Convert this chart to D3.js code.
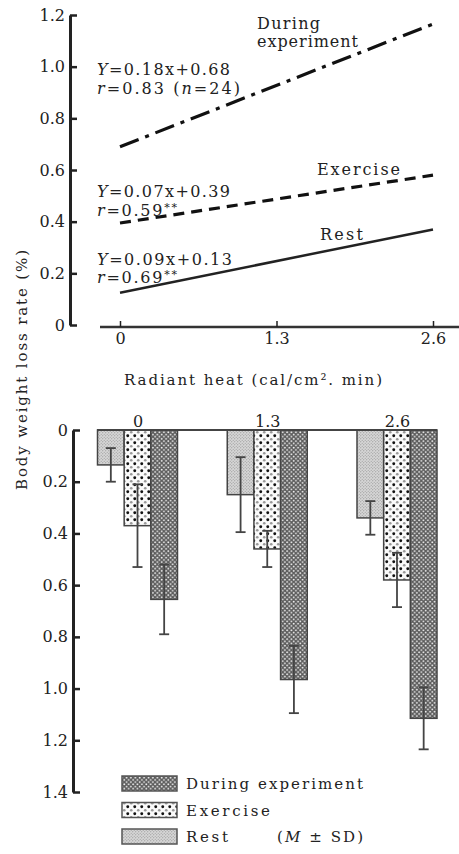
<!DOCTYPE html>
<html>
<head>
<meta charset="utf-8">
<script src="https://cdn.jsdelivr.net/npm/d3@7"></script>
<style>
  body { margin: 0; background: #fff; }
  svg { display: block; font-family: "DejaVu Serif", "Liberation Serif", serif; }
  text { fill: #222; }
</style>
</head>
<body>
<div id="chart"></div>
<script>
// ---- data ----
const heat = [0, 1.3, 2.6];
const heatLabels = ["0", "1.3", "2.6"];
const yTicksTop = [0, 0.2, 0.4, 0.6, 0.8, 1.0, 1.2];
const yTicksBottom = [0, 0.2, 0.4, 0.6, 0.8, 1.0, 1.2, 1.4];

// regression lines, value at x = 0 and x = 2.6
const lineEnds = [0, 2.6];
const restLine = [0.125, 0.37];
const exerciseLine = [0.395, 0.58];
const duringLine = [0.69, 1.165];

// bar chart, mean and SD per radiant heat level
const series = ["Rest", "Exercise", "During experiment"];
const restMean = [0.135, 0.25, 0.34];
const restSD = [0.065, 0.145, 0.065];
const exerciseMean = [0.37, 0.46, 0.58];
const exerciseSD = [0.16, 0.07, 0.105];
const duringMean = [0.655, 0.965, 1.115];
const duringSD = [0.135, 0.13, 0.12];

const W = 459, H = 854;
const svg = d3.select("#chart").append("svg")
  .attr("width", W)
  .attr("height", H);

svg.append("rect").attr("width", W).attr("height", H).attr("fill", "#fff");

// ---- patterns ----
const defs = svg.append("defs");

const pRest = defs.append("pattern").attr("id", "pRest")
  .attr("patternUnits", "userSpaceOnUse").attr("width", 3).attr("height", 3);
pRest.append("rect").attr("width", 3).attr("height", 3).attr("fill", "#d6d6d6");
pRest.append("circle").attr("cx", 0.75).attr("cy", 0.75).attr("r", 0.6).attr("fill", "#8a8a8a");
pRest.append("circle").attr("cx", 2.25).attr("cy", 2.25).attr("r", 0.6).attr("fill", "#9a9a9a");

const pEx = defs.append("pattern").attr("id", "pEx")
  .attr("patternUnits", "userSpaceOnUse").attr("width", 7).attr("height", 7);
pEx.append("rect").attr("width", 7).attr("height", 7).attr("fill", "#fafafa");
pEx.append("circle").attr("cx", 1.75).attr("cy", 1.75).attr("r", 1.45).attr("fill", "#111");
pEx.append("circle").attr("cx", 5.25).attr("cy", 5.25).attr("r", 1.35).attr("fill", "#999");

const pDur = defs.append("pattern").attr("id", "pDur")
  .attr("patternUnits", "userSpaceOnUse").attr("width", 4.4).attr("height", 4.4);
pDur.append("rect").attr("width", 4.4).attr("height", 4.4).attr("fill", "#5c5c5c");
pDur.append("circle").attr("cx", 1.1).attr("cy", 1.1).attr("r", 0.95).attr("fill", "#eee");
pDur.append("circle").attr("cx", 3.3).attr("cy", 3.3).attr("r", 0.95).attr("fill", "#eee");

const fills = { "Rest": "url(#pRest)", "Exercise": "url(#pEx)", "During experiment": "url(#pDur)" };

const fmt = d => d === 0 ? "0" : d3.format(".1f")(d);

// ---- top chart: regression lines ----
const x = d3.scaleLinear().domain([0, 2.6]).range([120, 433]);
const y = d3.scaleLinear().domain([0, 1.2]).range([325, 15]);

const yAxisTop = svg.append("g")
  .attr("transform", "translate(70,0)")
  .call(d3.axisLeft(y).tickValues(yTicksTop).tickFormat(fmt)
    .tickSizeInner(-7).tickSizeOuter(0).tickPadding(5));
yAxisTop.attr("font-family", null).attr("font-size", 16).attr("color", "#222");
yAxisTop.select(".domain").attr("stroke-width", 3);
yAxisTop.selectAll(".tick line").attr("stroke-width", 2.5);

svg.append("line")
  .attr("x1", 100).attr("x2", W).attr("y1", 327).attr("y2", 327)
  .attr("stroke", "#333").attr("stroke-width", 2.5);

const xAxisTop = svg.append("g")
  .attr("transform", "translate(0,327)")
  .call(d3.axisBottom(x).tickValues(heat).tickFormat((d, i) => heatLabels[i])
    .tickSizeInner(-6).tickSizeOuter(0).tickPadding(6));
xAxisTop.attr("font-family", null).attr("font-size", 16).attr("color", "#222");
xAxisTop.select(".domain").remove();
xAxisTop.selectAll(".tick line").attr("stroke-width", 1.5);

const line = d3.line()
  .x((d, i) => x(lineEnds[i]))
  .y(d => y(d));

svg.append("path").datum(restLine).attr("d", line)
  .attr("fill", "none").attr("stroke", "#222").attr("stroke-width", 2.5);
svg.append("path").datum(exerciseLine).attr("d", line)
  .attr("fill", "none").attr("stroke", "#111").attr("stroke-width", 3.2)
  .attr("stroke-dasharray", "11 7");
svg.append("path").datum(duringLine).attr("d", line)
  .attr("fill", "none").attr("stroke", "#111").attr("stroke-width", 3.2)
  .attr("stroke-dasharray", "20 7 4 7");

// equation text
function equation(yPos, a, b, width) {
  const t = svg.append("text").attr("x", 97).attr("y", yPos).attr("font-size", 16)
    .attr("textLength", width).attr("lengthAdjust", "spacing");
  t.append("tspan").attr("font-style", "italic").text("Y");
  t.append("tspan").text("=" + a + "x+" + b);
}
function corr(yPos, r, stars, width) {
  const t = svg.append("text").attr("x", 97).attr("y", yPos).attr("font-size", 16)
    .attr("textLength", width).attr("lengthAdjust", "spacing");
  t.append("tspan").attr("font-style", "italic").text("r");
  t.append("tspan").text("=" + r);
  if (stars) {
    t.append("tspan").attr("dy", -5).attr("font-size", 11).text(stars);
  } else {
    t.append("tspan").text(" (");
    t.append("tspan").attr("font-style", "italic").text("n");
    t.append("tspan").text("=24)");
  }
}
equation(75, "0.18", "0.68", 133);
corr(94, "0.83", null, 143);
equation(197, "0.07", "0.39", 133);
corr(216, "0.59", "**", 80);
equation(265, "0.09", "0.13", 135);
corr(283, "0.69", "**", 80);

svg.append("text").attr("x", 257).attr("y", 29).attr("font-size", 16)
  .attr("textLength", 63).attr("lengthAdjust", "spacing").text("During");
svg.append("text").attr("x", 257).attr("y", 47).attr("font-size", 16)
  .attr("textLength", 101).attr("lengthAdjust", "spacing").text("experiment");
svg.append("text").attr("x", 317).attr("y", 175).attr("font-size", 16)
  .attr("textLength", 83).attr("lengthAdjust", "spacing").text("Exercise");
svg.append("text").attr("x", 320).attr("y", 240).attr("font-size", 16)
  .attr("textLength", 43).attr("lengthAdjust", "spacing").text("Rest");

svg.append("text").attr("x", 124).attr("y", 385).attr("font-size", 15)
  .attr("textLength", 258).attr("lengthAdjust", "spacing")
  .text("Radiant heat (cal/cm². min)");

svg.append("text")
  .attr("transform", "translate(27,370) rotate(-90)")
  .attr("text-anchor", "middle").attr("font-size", 15)
  .attr("textLength", 240).attr("lengthAdjust", "spacing")
  .text("Body weight loss rate (%)");

// ---- bottom chart: bars ----
const yb = d3.scaleLinear().domain([0, 1.4]).range([430, 792]);
const xb = d3.scalePoint().domain(heatLabels).range([137.5, 397]);
const xs = d3.scaleBand().domain(series).range([-40, 40]);

const yAxisBot = svg.append("g")
  .attr("transform", "translate(73,0)")
  .call(d3.axisLeft(yb).tickValues(yTicksBottom).tickFormat(fmt)
    .tickSizeInner(-7).tickSizeOuter(0).tickPadding(5));
yAxisBot.attr("font-family", null).attr("font-size", 16).attr("color", "#222");
yAxisBot.select(".domain").attr("stroke-width", 3);
yAxisBot.selectAll(".tick line").attr("stroke-width", 2.5);

const barData = [];
heatLabels.forEach((h, i) => {
  barData.push({ h, s: "Rest", m: restMean[i], sd: restSD[i] });
  barData.push({ h, s: "Exercise", m: exerciseMean[i], sd: exerciseSD[i] });
  barData.push({ h, s: "During experiment", m: duringMean[i], sd: duringSD[i] });
});

svg.append("g").selectAll("rect").data(barData).join("rect")
  .attr("x", d => xb(d.h) + xs(d.s))
  .attr("y", yb(0))
  .attr("width", xs.bandwidth())
  .attr("height", d => yb(d.m) - yb(0))
  .attr("fill", d => fills[d.s])
  .attr("stroke", "#444").attr("stroke-width", 1.5);

const err = svg.append("g").attr("stroke", "#444").attr("stroke-width", 1.8);
barData.forEach(d => {
  const cx = xb(d.h) + xs(d.s) + xs.bandwidth() / 2;
  err.append("line").attr("x1", cx).attr("x2", cx)
    .attr("y1", yb(d.m - d.sd)).attr("y2", yb(d.m + d.sd));
  [d.m - d.sd, d.m + d.sd].forEach(v => {
    err.append("line").attr("x1", cx - 5).attr("x2", cx + 5)
      .attr("y1", yb(v)).attr("y2", yb(v));
  });
});

svg.append("line")
  .attr("x1", 97).attr("x2", 437).attr("y1", yb(0)).attr("y2", yb(0))
  .attr("stroke", "#444").attr("stroke-width", 2.2);

const xAxisBot = svg.append("g")
  .attr("transform", `translate(0,${yb(0)})`)
  .call(d3.axisTop(xb).tickSize(0).tickPadding(3));
xAxisBot.attr("font-family", null).attr("font-size", 16).attr("color", "#222");
xAxisBot.select(".domain").remove();

// ---- legend ----
const legendRows = ["During experiment", "Exercise", "Rest"];
const legendWidths = [177, 84, 42];
const legendY = d3.scalePoint().domain(legendRows).range([776, 829]);
const lg = svg.append("g");
legendRows.forEach((s, i) => {
  lg.append("rect").attr("x", 122).attr("y", legendY(s))
    .attr("width", 55).attr("height", 15)
    .attr("fill", fills[s]).attr("stroke", "#555").attr("stroke-width", 1.5);
  lg.append("text").attr("x", 186).attr("y", legendY(s) + 13).attr("font-size", 15)
    .attr("textLength", legendWidths[i]).attr("lengthAdjust", "spacing").text(s);
});
const sdText = lg.append("text").attr("x", 277).attr("y", legendY("Rest") + 13)
  .attr("font-size", 15).attr("textLength", 86).attr("lengthAdjust", "spacing");
sdText.append("tspan").text("(");
sdText.append("tspan").attr("font-style", "italic").text("M");
sdText.append("tspan").text(" ± SD)");
</script>
</body>
</html>
